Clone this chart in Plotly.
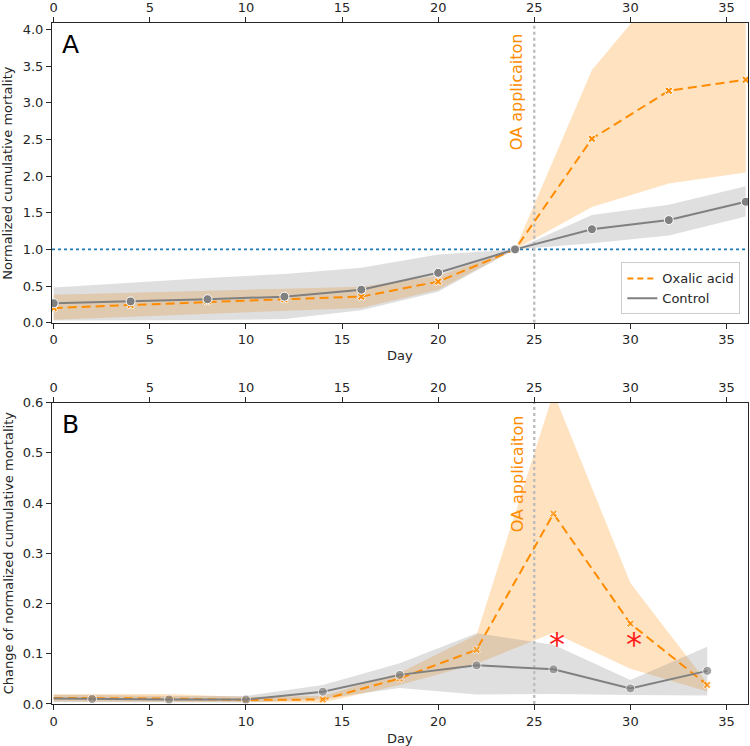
import plotly.graph_objects as go

# ---------------- data ----------------
OA_DAY = 25

days_a = [0, 4, 8, 12, 16, 20, 24, 28, 32, 36]
oxalic_a = [0.20, 0.24, 0.29, 0.32, 0.355, 0.56, 1.0, 2.51, 3.165, 3.315]
oxalic_a_hi = [0.38, 0.41, 0.44, 0.465, 0.49, 0.64, 1.0, 3.45, 4.70, 4.60]
oxalic_a_lo = [0.04, 0.08, 0.11, 0.15, 0.20, 0.45, 1.0, 1.58, 1.90, 2.05]
control_a = [0.265, 0.29, 0.32, 0.355, 0.45, 0.68, 1.0, 1.275, 1.40, 1.65]
control_a_hi = [0.48, 0.55, 0.61, 0.665, 0.75, 0.93, 1.0, 1.47, 1.61, 1.86]
control_a_lo = [0.03, 0.03, 0.035, 0.05, 0.17, 0.42, 1.0, 1.085, 1.19, 1.45]

days_b = [0, 2, 6, 10, 14, 18, 22, 26, 30, 34]
oxalic_b = [0.012, 0.0113, 0.011, 0.008, 0.009, 0.051, 0.108, 0.379, 0.160, 0.038]
oxalic_b_hi = [0.020, 0.020, 0.020, 0.014, 0.016, 0.062, 0.138, 0.620, 0.241, 0.042]
oxalic_b_lo = [0.005, 0.005, 0.005, 0.004, 0.003, 0.038, 0.080, 0.142, 0.070, 0.025]
control_b = [0.011, 0.010, 0.009, 0.009, 0.0246, 0.058, 0.077, 0.069, 0.031, 0.066]
control_b_hi = [0.018, 0.018, 0.016, 0.016, 0.038, 0.081, 0.141, 0.118, 0.048, 0.114]
control_b_lo = [0.004, 0.004, 0.003, 0.003, 0.010, 0.032, 0.019, 0.020, 0.018, 0.017]

sig_days = [26.2, 30.2]
sig_vals = [0.128, 0.128]

x_ticks = [0, 5, 10, 15, 20, 25, 30, 35]

# ---------------- style ----------------
ORANGE = "#ff8c00"
GRAY = "#808080"
ORANGE_FILL = "rgba(255,140,0,0.25)"
GRAY_FILL = "rgba(128,128,128,0.25)"
FONT = "DejaVu Sans"
AX = "#262626"
X_RANGE = [-0.09, 36.12]

fig = go.Figure()


def band(x, lo, hi, fill, xa, ya):
    fig.add_trace(go.Scatter(x=x, y=hi, mode="lines", line=dict(width=0),
                             xaxis=xa, yaxis=ya, showlegend=False, hoverinfo="skip"))
    fig.add_trace(go.Scatter(x=x, y=lo, mode="lines", line=dict(width=0),
                             fill="tonexty", fillcolor=fill,
                             xaxis=xa, yaxis=ya, showlegend=False, hoverinfo="skip"))


def series(x, y, xa, ya, color, dash, symbol, msize, sizes=None):
    fig.add_trace(go.Scatter(
        x=x, y=y, mode="lines+markers", xaxis=xa, yaxis=ya, showlegend=False,
        line=dict(color=color, width=2, dash=dash),
        marker=dict(symbol=symbol, color=color, size=sizes if sizes else msize,
                    line=dict(color="white", width=1))))


# ---- Panel A ----
band(days_a, oxalic_a_lo, oxalic_a_hi, ORANGE_FILL, "x", "y")
band(days_a, control_a_lo, control_a_hi, GRAY_FILL, "x", "y")
fig.add_trace(go.Scatter(x=X_RANGE, y=[1, 1], mode="lines", xaxis="x", yaxis="y",
                         line=dict(color="#1f77b4", width=1.6, dash="dot"),
                         showlegend=False, hoverinfo="skip"))
fig.add_trace(go.Scatter(x=[OA_DAY, OA_DAY], y=[0, 4.09], mode="lines", xaxis="x", yaxis="y",
                         line=dict(color="#bdbdbd", width=2.4, dash="dot"),
                         showlegend=False, hoverinfo="skip"))
series(days_a, oxalic_a, "x", "y", ORANGE, "9px,5px", "x", 7)
series(days_a, control_a, "x", "y", GRAY, "solid", "circle", 9)
# twin top axis for A
fig.add_trace(go.Scatter(x=[None], y=[None], xaxis="x2", yaxis="y", showlegend=False,
                         hoverinfo="skip"))

# ---- Panel B ----
band(days_b, oxalic_b_lo, oxalic_b_hi, ORANGE_FILL, "x3", "y2")
band(days_b, control_b_lo, control_b_hi, GRAY_FILL, "x3", "y2")
fig.add_trace(go.Scatter(x=[OA_DAY, OA_DAY], y=[0, 0.6], mode="lines", xaxis="x3", yaxis="y2",
                         line=dict(color="#bdbdbd", width=2.4, dash="dot"),
                         showlegend=False, hoverinfo="skip"))
sizes_ox = [0] + [7] * (len(days_b) - 1)
sizes_ct = [0] + [9] * (len(days_b) - 1)
series(days_b, oxalic_b, "x3", "y2", ORANGE, "9px,5px", "x", 7, sizes_ox)
series(days_b, control_b, "x3", "y2", GRAY, "solid", "circle", 9, sizes_ct)
fig.add_trace(go.Scatter(x=[None], y=[None], xaxis="x4", yaxis="y2", showlegend=False,
                         hoverinfo="skip"))

# ---- legend proxies ----
fig.add_trace(go.Scatter(x=[None], y=[None], mode="lines", name="Oxalic acid",
                         line=dict(color=ORANGE, width=2, dash="6px,4px"), xaxis="x", yaxis="y"))
fig.add_trace(go.Scatter(x=[None], y=[None], mode="lines", name="Control",
                         line=dict(color=GRAY, width=2), xaxis="x", yaxis="y"))

xcommon = dict(range=X_RANGE, tickvals=x_ticks, ticks="outside", ticklen=5, tickwidth=1,
               tickcolor=AX, showline=True, linecolor=AX, linewidth=1, showgrid=False,
               zeroline=False, automargin=False,
               tickfont=dict(size=13, color=AX, family=FONT))
ycommon = dict(ticks="outside", ticklen=5, tickwidth=1, tickcolor=AX, showline=True,
               linecolor=AX, linewidth=1, mirror=True, showgrid=False, zeroline=False,
               automargin=False,
               tickfont=dict(size=13, color=AX, family=FONT), tickformat=".1f")

A_BOTTOM = 0.56
B_TOP = 0.4424

fig.update_layout(
    width=750, height=746,
    margin=dict(l=52, r=2, t=23, b=42),
    paper_bgcolor="white", plot_bgcolor="white",
    font=dict(family=FONT, size=13, color=AX),
    xaxis=dict(**xcommon, domain=[0, 1], anchor="y"),
    xaxis2=dict(**xcommon, overlaying="x", side="top", anchor="y"),
    yaxis=dict(**ycommon, domain=[A_BOTTOM, 1], range=[0, 4.09], dtick=0.5, anchor="x"),
    xaxis3=dict(**xcommon, domain=[0, 1], anchor="y2"),
    xaxis4=dict(**xcommon, overlaying="x3", side="top", anchor="y2"),
    yaxis2=dict(**ycommon, domain=[0, B_TOP], range=[0, 0.6], dtick=0.1, anchor="x3"),
    legend=dict(x=0.989, y=0.572, xanchor="right", yanchor="bottom", traceorder="normal",
                bgcolor="rgba(255,255,255,0.8)", bordercolor="#cccccc", borderwidth=1,
                font=dict(size=13, color=AX, family=FONT), tracegroupgap=0),
    showlegend=True,
)

ann = []
# panel letters
ann.append(dict(text="A", xref="x", yref="y", x=0.3, y=3.8, xanchor="left", yanchor="middle",
                showarrow=False, font=dict(size=25, color="black", family=FONT)))
ann.append(dict(text="B", xref="x3", yref="y2", x=0.3, y=0.557, xanchor="left", yanchor="middle",
                showarrow=False, font=dict(size=25, color="black", family=FONT)))
# OA application labels
ann.append(dict(text="OA applicaiton", xref="x", yref="y", x=OA_DAY, y=3.15, xshift=-17,
                xanchor="center", yanchor="middle",
                textangle=-90, showarrow=False, font=dict(size=16, color=ORANGE, family=FONT)))
ann.append(dict(text="OA applicaiton", xref="x3", yref="y2", x=OA_DAY, y=0.458, xshift=-17,
                xanchor="center", yanchor="middle",
                textangle=-90, showarrow=False, font=dict(size=16, color=ORANGE, family=FONT)))
# significance markers
for d, v in zip(sig_days, sig_vals):
    ann.append(dict(text="*", xref="x3", yref="y2", x=d, y=v, yshift=-4,
                    xanchor="center", yanchor="middle", showarrow=False,
                    font=dict(size=32, color="#ff1a1a", family=FONT)))
# axis titles
ann.append(dict(text="Normalized cumulative mortality", xref="paper", yref="paper",
                x=0, y=(A_BOTTOM + 1) / 2, xshift=-44, xanchor="center", yanchor="middle",
                textangle=-90, showarrow=False, font=dict(size=13, color=AX, family=FONT)))
ann.append(dict(text="Change of normalized cumulative mortality", xref="paper", yref="paper",
                x=0, y=B_TOP / 2, xshift=-44, xanchor="center", yanchor="middle",
                textangle=-90, showarrow=False, font=dict(size=13, color=AX, family=FONT)))
ann.append(dict(text="Day", xref="paper", yref="paper", x=0.5, y=A_BOTTOM, yshift=-33,
                xanchor="center", yanchor="middle",
                showarrow=False, font=dict(size=13, color=AX, family=FONT)))
ann.append(dict(text="Day", xref="paper", yref="paper", x=0.5, y=0, yshift=-34,
                xanchor="center", yanchor="middle",
                showarrow=False, font=dict(size=13, color=AX, family=FONT)))
fig.update_layout(annotations=ann)

# remove the default 8px page margin so the figure sits at the window origin
fig.write_html("out.html", config={"displayModeBar": False},
               post_script="document.body.style.margin='0';document.body.style.overflow='hidden';")
